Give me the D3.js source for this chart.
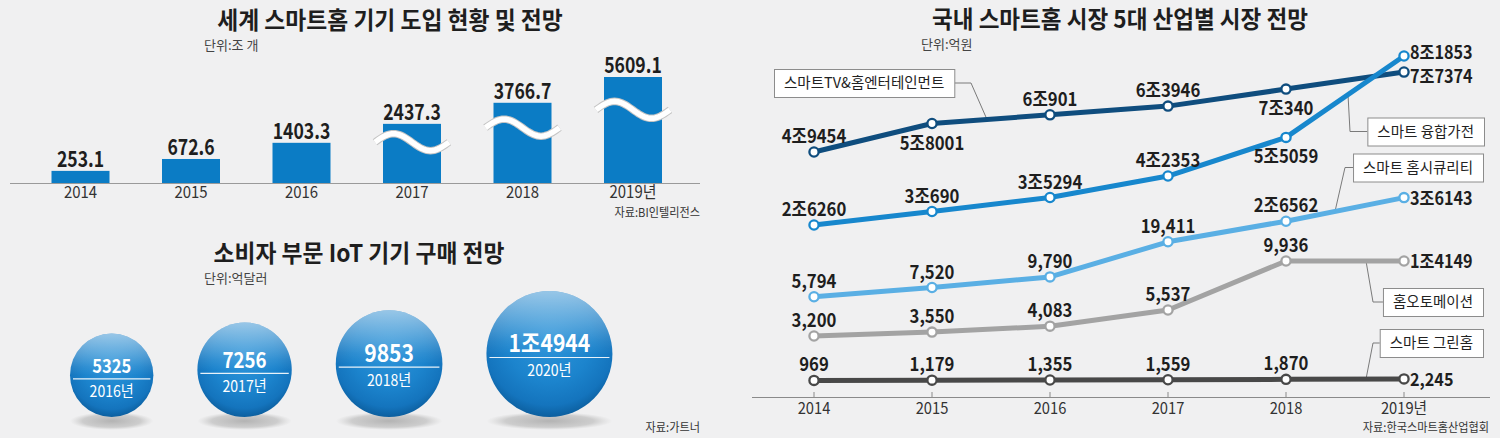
<!DOCTYPE html>
<html><head><meta charset="utf-8">
<script src="https://cdn.jsdelivr.net/npm/d3@7"></script>
<style>
html,body{margin:0;padding:0;background:#f0f0f1;}
svg{display:block;font-family:"Noto Sans CJK KR","Noto Sans",sans-serif;}
</style></head><body><svg id="c" width="1500" height="438"></svg>
<script>
// ---------------- DATA ----------------
const barYears = ["2014","2015","2016","2017","2018","2019"];
const barTickLabels = ["2014","2015","2016","2017","2018","2019년"];
const barValues = [253.1, 672.6, 1403.3, 2437.3, 3766.7, 5609.1];
const brokenBars = ["2017","2018","2019"];

const bubbleYears = ["2016년","2017년","2018년","2020년"];
const bubbleValues = [5325, 7256, 9853, 14944];

const lineYears = ["2014","2015","2016","2017","2018","2019"];
const lineTickLabels = ["2014","2015","2016","2017","2018","2019년"];
const seriesNames = ["스마트TV&홈엔터테인먼트","스마트 융합가전","스마트 홈시큐리티","홈오토메이션","스마트 그린홈"];
const tvValues = [49454, 58001, 60901, 63946, 70340, 77374];
const tvLabels = ["4조9454","5조8001","6조901","6조3946","7조340","7조7374"];
const applianceValues = [26260, 30690, 35294, 42353, 55059, 81853];
const applianceLabels = ["2조6260","3조690","3조5294","4조2353","5조5059","8조1853"];
const securityValues = [5794, 7520, 9790, 19411, 26562, 36143];
const securityLabels = ["5,794","7,520","9,790","19,411","2조6562","3조6143"];
const automationValues = [3200, 3550, 4083, 5537, 9936, 14149];
const automationLabels = ["3,200","3,550","4,083","5,537","9,936","1조4149"];
const greenValues = [969, 1179, 1355, 1559, 1870, 2245];
const greenLabels = ["969","1,179","1,355","1,559","1,870","2,245"];

// ---------------- HELPERS ----------------
const svg = d3.select("#c");
const defs = svg.append("defs");
function txt(g, x, y, s, o) {
  o = o || {};
  return g.append("text")
    .attr("transform", `translate(${x},${y}) scale(${o.sx || 1},1)`)
    .attr("text-anchor", o.anchor || "start")
    .attr("font-size", o.size || 14)
    .attr("font-weight", o.weight || 400)
    .attr("fill", o.fill || "#222")
    .text(s);
}
function wavePath(cx, cy, half, amp) {
  const pts = d3.range(0, 41).map(i => {
    const t = -half + (2 * half) * i / 40;
    return [cx + t, cy - amp * Math.sin(Math.PI * (t + half) / half)];
  });
  return d3.line()(pts);
}

// ---------------- LEFT TOP: BAR CHART ----------------
const gB = svg.append("g");
const bx = d3.scalePoint().domain(barYears).range([80.5, 633]);
const baseY = 183;
const by = d3.scalePow().exponent(0.7).domain([0, 5609.1]).range([baseY, 77]);
const barW = 58;
txt(gB, 390, 29, "세계 스마트홈 기기 도입 현황 및 전망", {size: 24, weight: 700, anchor: "middle", sx: 0.95, fill: "#1e1e1e"});
txt(gB, 204, 50, "단위:조 개", {size: 13, fill: "#444"});
barYears.forEach((yr, i) => {
  const v = barValues[i];
  gB.append("rect").attr("x", bx(yr) - barW / 2).attr("y", by(v))
    .attr("width", barW).attr("height", baseY - by(v)).attr("fill", "#0b7cc5");
  txt(gB, bx(yr), by(v) - 4, d3.format(".1f")(v), {size: 22, weight: 700, anchor: "middle", sx: 0.8, fill: "#1e1e1e"});
  txt(gB, bx(yr), 198, barTickLabels[i], {size: 17, anchor: "middle", sx: 0.88, fill: "#333"});
  if (brokenBars.includes(yr)) {
    const cy = baseY - 0.69 * (baseY - by(v));
    const d = wavePath(bx(yr), cy, 37, 8.5);
    gB.append("path").attr("d", d).attr("fill", "none").attr("stroke", "#c4c4c4").attr("stroke-width", 7.5);
    gB.append("path").attr("d", d).attr("fill", "none").attr("stroke", "#ffffff").attr("stroke-width", 5.5);
  }
});
gB.append("line").attr("x1", 10).attr("x2", 700).attr("y1", baseY + 0.5).attr("y2", baseY + 0.5).attr("stroke", "#9a9a9a");
txt(gB, 700, 217, "자료:BI인텔리전스", {size: 12, anchor: "end", sx: 0.93, fill: "#333"});

// ---------------- LEFT BOTTOM: BUBBLES ----------------
const gC = svg.append("g");
txt(gC, 359, 262, "소비자 부문 IoT 기기 구매 전망", {size: 24, weight: 700, anchor: "middle", sx: 0.95, fill: "#1e1e1e"});
txt(gC, 204, 283, "단위:억달러", {size: 13, fill: "#444"});
txt(gC, 700, 432, "자료:가트너", {size: 12, anchor: "end", sx: 0.93, fill: "#333"});

const sph = defs.append("radialGradient").attr("id", "sph").attr("cx", "50%").attr("cy", "38%").attr("r", "62%");
sph.append("stop").attr("offset", "0%").attr("stop-color", "#2e95da");
sph.append("stop").attr("offset", "55%").attr("stop-color", "#1c84cd");
sph.append("stop").attr("offset", "85%").attr("stop-color", "#1474bd");
sph.append("stop").attr("offset", "100%").attr("stop-color", "#0c5f9f");
const shine = defs.append("linearGradient").attr("id", "shine").attr("x1", 0).attr("x2", 0).attr("y1", 0).attr("y2", 1);
shine.append("stop").attr("offset", "0%").attr("stop-color", "#ffffff").attr("stop-opacity", 0.55);
shine.append("stop").attr("offset", "40%").attr("stop-color", "#ffffff").attr("stop-opacity", 0.08);
shine.append("stop").attr("offset", "50%").attr("stop-color", "#ffffff").attr("stop-opacity", 0);
const shad = defs.append("radialGradient").attr("id", "shad");
shad.append("stop").attr("offset", "0%").attr("stop-color", "#b3b3b3").attr("stop-opacity", 1);
shad.append("stop").attr("offset", "70%").attr("stop-color", "#c4c4c4").attr("stop-opacity", 0.8);
shad.append("stop").attr("offset", "100%").attr("stop-color", "#d0d0d0").attr("stop-opacity", 0);

const rScale = d3.scalePow().exponent(0.4).domain([0, 14944]).range([0, 63]);
const bubbleBottom = 417, bubbleGap = 44;
let left = 70;
const fmtBubble = v => v >= 10000 ? `${Math.floor(v / 10000)}조${v % 10000}` : String(v);
bubbleValues.forEach((v, i) => {
  const r = rScale(v);
  const cx = left + r, cy = bubbleBottom - r;
  left = cx + r + bubbleGap;
  gC.append("ellipse").attr("cx", cx).attr("cy", bubbleBottom + 4).attr("rx", r * 1.0).attr("ry", 9).attr("fill", "url(#shad)");
  gC.append("circle").attr("cx", cx).attr("cy", cy).attr("r", r).attr("fill", "url(#sph)");
  gC.append("circle").attr("cx", cx).attr("cy", cy).attr("r", r).attr("fill", "url(#shine)");
  const fs = Math.min(r * 0.45, 24);
  txt(gC, cx, cy - 2, fmtBubble(v), {size: fs, weight: 700, anchor: "middle", sx: 0.88, fill: "#fff"});
  gC.append("line").attr("x1", cx - r + 3).attr("x2", cx + r - 3).attr("y1", cy + 3.5).attr("y2", cy + 3.5)
    .attr("stroke", "#ffffff").attr("stroke-width", 1.2).attr("opacity", 0.9);
  txt(gC, cx, cy + 22, bubbleYears[i], {size: 16, anchor: "middle", sx: 0.88, fill: "#fff"});
});

// ---------------- RIGHT: LINE CHART ----------------
const gR = svg.append("g");
txt(gR, 1120, 28, "국내 스마트홈 시장 5대 산업별 시장 전망", {size: 24, weight: 700, anchor: "middle", sx: 0.94, fill: "#1e1e1e"});
txt(gR, 921, 49, "단위:억원", {size: 13, fill: "#444"});

const lx = d3.scalePoint().domain(lineYears).range([814, 1404]);
const axisY = 397;
gR.append("line").attr("x1", 752).attr("x2", 1490).attr("y1", axisY + 0.5).attr("y2", axisY + 0.5).attr("stroke", "#8a8a8a");
lineYears.forEach((yr, i) => {
  gR.append("line").attr("x1", lx(yr)).attr("x2", lx(yr)).attr("y1", axisY - 5).attr("y2", axisY).attr("stroke", "#8a8a8a");
  txt(gR, lx(yr), 414, lineTickLabels[i], {size: 16, anchor: "middle", sx: 0.92, fill: "#333"});
});
txt(gR, 1489, 432, "자료:한국스마트홈산업협회", {size: 12, anchor: "end", sx: 0.93, fill: "#333"});

const series = [
  {name: seriesNames[0], values: tvValues, labels: tvLabels, color: "#0f4d7e",
   y: d3.scaleLog().domain([40000, 80000]).range([189.9, 66.1]), below: [1, 4], lastDy: 11},
  {name: seriesNames[1], values: applianceValues, labels: applianceLabels, color: "#1787cd",
   y: d3.scaleLinear().domain([20000, 90000]).range([244, 31.2]), below: [4], lastDy: 3},
  {name: seriesNames[2], values: securityValues, labels: securityLabels, color: "#5aafe4",
   y: d3.scaleSqrt().domain([0, 40000]).range([363, 189]), below: [], lastDy: 7},
  {name: seriesNames[3], values: automationValues, labels: automationLabels, color: "#a3a3a3",
   y: d3.scaleLinear().domain([3200, 9936]).range([336, 261]).clamp(true), below: [], lastDy: 7},
  {name: seriesNames[4], values: greenValues, labels: greenLabels, color: "#484848",
   y: d3.scaleLinear().domain([0, 10000]).range([381.5, 370]), below: [], lastDy: 7}
];
series.forEach(s => { s.pts = s.values.map((v, i) => [lx(lineYears[i]), s.y(v)]); });
function yAt(s, x) {
  for (let i = 0; i < s.pts.length - 1; i++) {
    const a = s.pts[i], b = s.pts[i + 1];
    if (x >= a[0] && x <= b[0]) return a[1] + (b[1] - a[1]) * (x - a[0]) / (b[0] - a[0]);
  }
  return s.pts[s.pts.length - 1][1];
}

// leader lines + boxes (annotation layout)
const boxes = [
  {s: 0, x0: 774, cy: 83, side: "left", path: s => [[971, 83], [987, yAt(s, 987)]]},
  {s: 1, x1: 1484, cy: 131.5, side: "right", path: s => [[1350, 131.5], [1348, yAt(s, 1348)]]},
  {s: 2, x1: 1483, cy: 167.5, side: "right", path: s => [[1345, 167.5], [1335, yAt(s, 1335)]]},
  {s: 3, x1: 1483, cy: 302, side: "right", path: s => [[1373, 302], [1366, yAt(s, 1366)]]},
  {s: 4, x1: 1483, cy: 343, side: "right", path: s => [[1373, 343], [1366, yAt(s, 1366)]]}
];
const gLead = gR.append("g");
const gLines = gR.append("g");
const gBox = gR.append("g");

series.forEach(s => {
  gLines.append("path").attr("d", d3.line()(s.pts)).attr("fill", "none")
    .attr("stroke", s.color).attr("stroke-width", 5).attr("stroke-linejoin", "round");
  s.pts.forEach((p, i) => {
    gLines.append("circle").attr("cx", p[0]).attr("cy", p[1]).attr("r", 4.6)
      .attr("fill", "#fff").attr("stroke", s.color).attr("stroke-width", 2.3);
    const last = i === s.pts.length - 1;
    if (last) {
      txt(gLines, p[0] + 6, p[1] + s.lastDy, s.labels[i], {size: 18, weight: 700, sx: 0.9, fill: "#1e1e1e"});
    } else if (s.below.includes(i)) {
      txt(gLines, p[0], p[1] + 26, s.labels[i], {size: 19, weight: 700, anchor: "middle", sx: 0.88, fill: "#1e1e1e"});
    } else {
      txt(gLines, p[0], p[1] - 9, s.labels[i], {size: 19, weight: 700, anchor: "middle", sx: 0.88, fill: "#1e1e1e"});
    }
  });
});

boxes.forEach(b => {
  const s = series[b.s];
  const t = txt(gBox, 0, 0, s.name, {size: 14.5, fill: "#222"});
  const w = t.node().getComputedTextLength() + 20;
  const x0 = b.side === "left" ? b.x0 : b.x1 - w;
  t.attr("transform", `translate(${x0 + 10},${b.cy + 5})`);
  gBox.insert("rect", () => t.node()).attr("x", x0 + 0.5).attr("y", b.cy - 14 + 0.5).attr("width", w).attr("height", 28)
    .attr("fill", "#fff").attr("stroke", "#8c8c8c").attr("stroke-width", 1);
  const start = b.side === "left" ? [x0 + w, b.cy] : [x0, b.cy];
  gLead.append("path").attr("d", d3.line()([start, ...b.path(s)])).attr("fill", "none")
    .attr("stroke", "#7a7a7a").attr("stroke-width", 1);
});
</script></body></html>
